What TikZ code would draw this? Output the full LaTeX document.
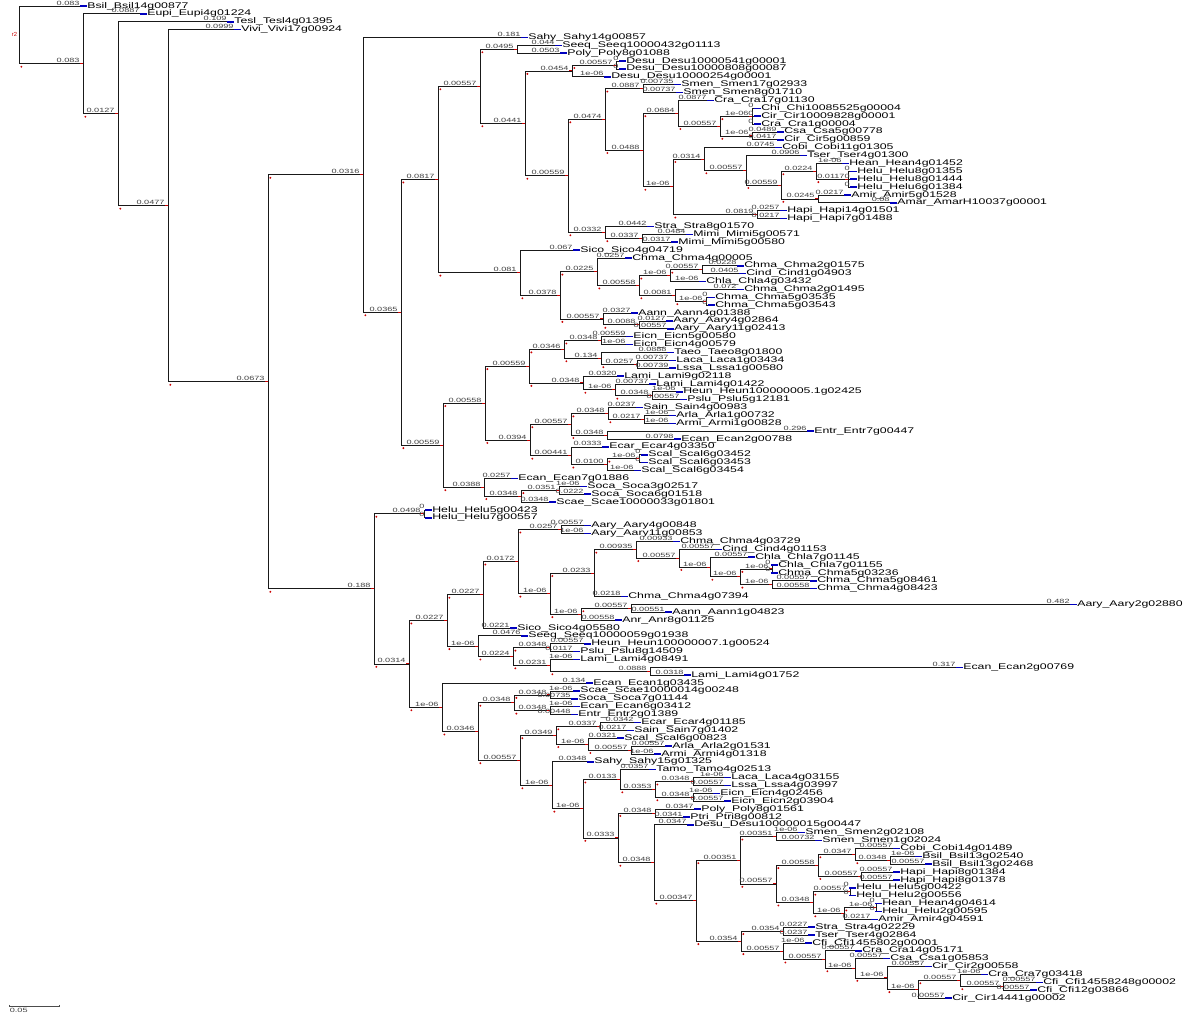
\documentclass[tikz,border=0pt]{standalone}
\usepackage{fontspec}
\setmainfont{Liberation Sans}
\usepackage{graphicx}
\usetikzlibrary{calc}

\newcommand\wide[1]{\scalebox{1.5}[1]{#1}}
\newcommand\lnfont{\fontsize{7}{8}\selectfont}
\newcommand\blfont{\fontsize{5.2}{5.5}\selectfont}

\tikzset{
  br/.style={draw=black!90, line width=0.65pt},
  blen/.style={font=\blfont, text=black!75, inner sep=0.1pt, anchor=south east, xshift=-2.5pt, yshift=0.3pt, pos=1},
  lname/.style={font=\lnfont, anchor=west, inner sep=0pt},
  tipmark/.style={draw=blue!75!black, line width=1.3pt},
  nodetick/.style={draw=red!80!black, line width=0.8pt},
  nodedot/.style={fill=red!80!black},
}

% #1 name, #2 parent, #3 x, #4 row, #5 branch length, #6 label
\newcommand\addleaf[6]{%
  \coordinate (#1) at (#3,#4);
  \draw[br] (#2) |- node[blen]{\wide{#5}} (#1);
  \draw[tipmark] ($(#1)+(-2.5pt,0)$) -- ++(6pt,0);
  \node[lname] (#1-t) at ($(#1)+(3.5pt,0)$) {\wide{#6}};
}
% #1 name, #2 parent, #3 x, #4 row, #5 branch length
\newcommand\addnode[5]{%
  \coordinate (#1) at (#3,#4);
  \draw[br] (#2) |- node[blen]{\wide{#5}} (#1);
  \draw[nodetick] ($(#1)+(-2.5pt,0)$) -- (#1);
  \fill[nodedot] ($(#2 |- #1)+(2pt,-2.5pt)$) circle (0.9pt);
}

\begin{document}
\begin{tikzpicture}[x=0.03cm, y=-0.23619cm]
\fill[white] (0,-0.762) rectangle (1200,128.29);
\useasboundingbox (0,-0.762) rectangle (1200,128.29);

% root
\coordinate (root) at (19,3.67);
\node[font=\fontsize{5}{5}\selectfont, text=red!80!black, anchor=east, inner sep=0.5pt] (rootlab) at (18,3.67) {r2};
\addleaf{bsilA}{root}{83}{0}{0.083}{Bsil\_Bsil14g00877}
\addnode{n1}{root}{83}{7.34}{0.083}
\addleaf{eupi}{n1}{143}{1}{0.0887}{Eupi\_Eupi4g01224}
\addnode{n2}{n1}{118}{13.69}{0.0127}
\addleaf{tesl}{n2}{230}{2}{0.109}{Tesl\_Tesl4g01395}
\addnode{n3}{n2}{168}{25.37}{0.0477}
\addleaf{vivi}{n3}{237}{3}{0.0999}{Vivi\_Vivi17g00924}
\addnode{n4}{n3}{268}{47.74}{0.0673}

% upper clade
\addnode{na}{n4}{363}{21.45}{0.0316}
\addleaf{sahyA}{na}{524}{4}{0.181}{Sahy\_Sahy14g00857}
\addnode{nb}{na}{401}{38.91}{0.0365}
\addnode{nc1}{nb}{438}{22.04}{0.0817}
\addnode{nc2}{nc1}{480}{10.2}{0.00557}
\addnode{nc3}{nc2}{517}{5.5}{0.0495}
\addleaf{seeqA}{nc3}{558}{5}{0.044}{Seeq\_Seeq10000432g01113}
\addleaf{polyA}{nc3}{563}{6}{0.0503}{Poly\_Poly8g01088}
\addnode{nc4}{nc2}{525}{14.9}{0.0441}
\addnode{nc5}{nc4}{572}{8.25}{0.0454}
\addnode{nc6}{nc5}{616}{7.5}{0.00557}
\addleaf{desuA}{nc6}{622}{7}{0}{Desu\_Desu10000541g00001}
\addleaf{desuB}{nc6}{622}{8}{0}{Desu\_Desu10000808g00087}
\addleaf{desuC}{nc5}{607}{9}{1e-06}{Desu\_Desu10000254g00001}
\addnode{nc7}{nc4}{568}{21.57}{0.00559}
\addnode{nc8}{nc7}{605}{14.4}{0.0474}
\addnode{ncs}{nc8}{643}{10.5}{0.0887}
\addleaf{smenA}{ncs}{677}{10}{0.00735}{Smen\_Smen17g02933}
\addleaf{smenB}{ncs}{679}{11}{0.00737}{Smen\_Smen8g01710}
\addnode{nc9}{nc8}{643}{18.3}{0.0488}
\addnode{nc10}{nc9}{678}{13.625}{0.0684}
\addleaf{craA}{nc10}{710}{12}{0.0877}{Cra\_Cra17g01130}
\addnode{nc11}{nc10}{720}{15.25}{0.00557}
\addnode{nc11a}{nc11}{752}{14}{1e-06}
\addleaf{chiA}{nc11a}{757}{13}{0}{Chi\_Chi10085525g00004}
\addleaf{cirA}{nc11a}{757}{14}{0}{Cir\_Cir10009828g00001}
\addleaf{craB}{nc11a}{757}{15}{0}{Cra\_Cra1g00004}
\addnode{nc11b}{nc11}{752}{16.5}{1e-06}
\addleaf{csaA}{nc11b}{780}{16}{0.0489}{Csa\_Csa5g00778}
\addleaf{cirB}{nc11b}{780}{17}{0.0417}{Cir\_Cir5g00859}
\addnode{nc12}{nc9}{673}{22.97}{1e-06}
\addnode{nc13}{nc12}{704}{19.44}{0.0314}
\addleaf{cobiA}{nc13}{778}{18}{0.0745}{Cobi\_Cobi11g01305}
\addnode{nc14}{nc13}{746}{20.875}{0.00557}
\addleaf{tserA}{nc14}{803}{19}{0.0906}{Tser\_Tser4g01300}
\addnode{nc15}{nc14}{781}{22.75}{0.00559}
\addnode{nc16}{nc15}{816}{21}{0.0224}
\addleaf{heanA}{nc16}{845}{20}{1e-06}{Hean\_Hean4g01452}
\addnode{nc16b}{nc16}{848}{22}{0.0117}
\addleaf{heluA}{nc16b}{853}{21}{0}{Helu\_Helu8g01355}
\addleaf{heluB}{nc16b}{853}{22}{0}{Helu\_Helu8g01444}
\addleaf{heluC}{nc16b}{853}{23}{0}{Helu\_Helu6g01384}
\addnode{nc17}{nc15}{818}{24.5}{0.0245}
\addleaf{amirA}{nc17}{847}{24}{0.0217}{Amir\_Amir5g01528}
\addleaf{amarA}{nc17}{893}{25}{0.08}{Amar\_AmarH10037g00001}
\addnode{nc18}{nc12}{757}{26.5}{0.0819}
\addleaf{hapiA}{nc18}{783}{26}{0.0257}{Hapi\_Hapi14g01501}
\addleaf{hapiB}{nc18}{783}{27}{0.0217}{Hapi\_Hapi7g01488}
\addnode{nc19}{nc7}{605}{28.75}{0.0332}
\addleaf{straA}{nc19}{650}{28}{0.0442}{Stra\_Stra8g01570}
\addnode{nc20}{nc19}{642}{29.5}{0.0337}
\addleaf{mimiA}{nc20}{689}{29}{0.0484}{Mimi\_Mimi5g00571}
\addleaf{mimiB}{nc20}{674}{30}{0.0317}{Mimi\_Mimi5g00580}
\addnode{nc21}{nc1}{520}{33.875}{0.081}
\addleaf{sicoA}{nc21}{576}{31}{0.067}{Sico\_Sico4g04719}
\addnode{nc22}{nc21}{560}{36.75}{0.0378}
\addnode{nc23}{nc22}{597}{33.75}{0.0225}
\addleaf{chmaA}{nc23}{628}{32}{0.0257}{Chma\_Chma4g00005}
\addnode{nc24}{nc23}{639}{35.5}{0.00558}
\addnode{nc25}{nc24}{670}{34.25}{1e-06}
\addnode{nc26}{nc25}{702}{33.5}{0.00557}
\addleaf{chmaB}{nc26}{740}{33}{0.0228}{Chma\_Chma2g01575}
\addleaf{cindA}{nc26}{742}{34}{0.0405}{Cind\_Cind1g04903}
\addleaf{chlaA}{nc25}{702}{35}{1e-06}{Chla\_Chla4g03432}
\addnode{nc27}{nc24}{675}{36.75}{0.0081}
\addleaf{chmaC}{nc27}{740}{36}{0.072}{Chma\_Chma2g01495}
\addnode{nc27b}{nc27}{706}{37.5}{1e-06}
\addleaf{chmaD}{nc27b}{711}{37}{0}{Chma\_Chma5g03535}
\addleaf{chmaE}{nc27b}{711}{38}{0}{Chma\_Chma5g03543}
\addnode{nc28}{nc22}{603}{39.75}{0.00557}
\addleaf{aannA}{nc28}{634}{39}{0.0327}{Aann\_Aann4g01388}
\addnode{nc28b}{nc28}{639}{40.5}{0.0088}
\addleaf{aaryA}{nc28b}{669}{40}{0.0127}{Aary\_Aary4g02864}
\addleaf{aaryB}{nc28b}{670}{41}{0.00557}{Aary\_Aary11g02413}

% middle clade
\addnode{nd0}{nb}{443}{55.78}{0.00559}
\addnode{nd1}{nd0}{485}{50.44}{0.00558}
\addnode{nd2}{nd1}{529}{45.75}{0.00559}
\addnode{nd3}{nd2}{564}{43.625}{0.0346}
\addnode{nd4}{nd3}{601}{42.5}{0.0348}
\addleaf{eicnA}{nd4}{629}{42}{0.00559}{Eicn\_Eicn5g00580}
\addleaf{eicnB}{nd4}{629}{43}{1e-06}{Eicn\_Eicn4g00579}
\addnode{nd5}{nd3}{601}{44.75}{0.134}
\addleaf{taeoA}{nd5}{670}{44}{0.0888}{Taeo\_Taeo8g01800}
\addnode{nd6}{nd5}{637}{45.5}{0.0257}
\addleaf{lacaA}{nd6}{672}{45}{0.00737}{Laca\_Laca1g03434}
\addleaf{lssaA}{nd6}{672}{46}{0.00739}{Lssa\_Lssa1g00580}
\addnode{nd7}{nd2}{583}{47.875}{0.0348}
\addleaf{lamiA}{nd7}{620}{47}{0.0320}{Lami\_Lami9g02118}
\addnode{nd8}{nd7}{615}{48.75}{1e-06}
\addleaf{lamiB}{nd8}{652}{48}{0.00737}{Lami\_Lami4g01422}
\addnode{nd9}{nd8}{652}{49.5}{0.0348}
\addleaf{heunA}{nd9}{679}{49}{1e-06}{Heun\_Heun100000005.1g02425}
\addleaf{psluA}{nd9}{683}{50}{0.00557}{Pslu\_Pslu5g12181}
\addnode{nd10}{nd1}{530}{55.125}{0.0394}
\addnode{nd11}{nd10}{571}{53.125}{0.00557}
\addnode{nd12}{nd11}{608}{51.75}{0.0348}
\addleaf{sainA}{nd12}{639}{51}{0.0237}{Sain\_Sain4g00983}
\addnode{nd13}{nd12}{644}{52.5}{0.0217}
\addleaf{arlaA}{nd13}{672}{52}{1e-06}{Arla\_Arla1g00732}
\addleaf{armiA}{nd13}{672}{53}{1e-06}{Armi\_Armi1g00828}
\addnode{nd14}{nd11}{607}{54.5}{0.0348}
\addleaf{entrA}{nd14}{810}{54}{0.296}{Entr\_Entr7g00447}
\addleaf{ecanA}{nd14}{677}{55}{0.0798}{Ecan\_Ecan2g00788}
\addnode{nd15}{nd10}{571}{57.125}{0.00441}
\addleaf{ecarA}{nd15}{605}{56}{0.0333}{Ecar\_Ecar4g03350}
\addnode{nd16}{nd15}{607}{58.25}{0.0100}
\addnode{nd17}{nd16}{639}{57.5}{1e-06}
\addleaf{scalA}{nd17}{644}{57}{0}{Scal\_Scal6g03452}
\addleaf{scalB}{nd17}{644}{58}{0}{Scal\_Scal6g03453}
\addleaf{scalC}{nd16}{637}{59}{1e-06}{Scal\_Scal6g03454}
\addnode{nd18}{nd0}{484}{61.125}{0.0388}
\addleaf{ecanB}{nd18}{514}{60}{0.0257}{Ecan\_Ecan7g01886}
\addnode{nd19}{nd18}{521}{62.25}{0.0348}
\addnode{nd20}{nd19}{559}{61.5}{0.0351}
\addleaf{socaA}{nd20}{583}{61}{1e-06}{Soca\_Soca3g02517}
\addleaf{socaB}{nd20}{587}{62}{0.0222}{Soca\_Soca6g01518}
\addleaf{scaeA}{nd19}{552}{63}{0.0348}{Scae\_Scae10000033g01801}

% lower clade
\addnode{ne0}{n4}{374}{74.03}{0.188}
\addnode{ne1}{ne0}{424}{64.5}{0.0498}
\addleaf{heluD}{ne1}{428}{64}{0}{Helu\_Helu5g00423}
\addleaf{heluE}{ne1}{428}{65}{0}{Helu\_Helu7g00557}
\addnode{ne2}{ne0}{409}{83.56}{0.0314}
\addnode{ne3}{ne2}{447}{78.05}{0.0227}
\addnode{ne4}{ne3}{483}{74.79}{0.0227}
\addnode{ne5}{ne4}{518}{70.57}{0.0172}
\addnode{ne6}{ne5}{561}{66.5}{0.0257}
\addleaf{aaryC}{ne6}{587}{66}{0.00557}{Aary\_Aary4g00848}
\addleaf{aaryD}{ne6}{587}{67}{1e-06}{Aary\_Aary11g00853}
\addnode{ne7}{ne5}{550}{74.64}{1e-06}
\addnode{ne8}{ne7}{594}{72.03}{0.0233}
\addnode{ne9}{ne8}{636}{69.06}{0.00935}
\addleaf{chmaF}{ne9}{676}{68}{0.00933}{Chma\_Chma4g03729}
\addnode{ne10}{ne9}{679}{70.125}{0.00557}
\addleaf{cindB}{ne10}{718}{69}{0.00557}{Cind\_Cind4g01153}
\addnode{ne11}{ne10}{710}{71.25}{1e-06}
\addleaf{chlaB}{ne11}{751}{70}{0.00557}{Chla\_Chla7g01145}
\addnode{ne12}{ne11}{740}{72.5}{1e-06}
\addnode{ne13}{ne12}{772}{71.5}{1e-06}
\addleaf{chlaC}{ne13}{774}{71}{0}{Chla\_Chla7g01155}
\addleaf{chmaG}{ne13}{774}{72}{0}{Chma\_Chma5g03236}
\addnode{ne14}{ne12}{772}{73.5}{1e-06}
\addleaf{chmaH}{ne14}{813}{73}{0.00557}{Chma\_Chma5g08461}
\addleaf{chmaI}{ne14}{813}{74}{0.00558}{Chma\_Chma4g08423}
\addleaf{chmaJ}{ne8}{624}{75}{0.0218}{Chma\_Chma4g07394}
\addnode{ne15}{ne7}{581}{77.25}{1e-06}
\addnode{ne16}{ne15}{631}{76.5}{0.00557}
\addleaf{aaryE}{ne16}{1073}{76}{0.482}{Aary\_Aary2g02880}
\addleaf{aannB}{ne16}{668}{77}{0.00551}{Aann\_Aann1g04823}
\addleaf{anrA}{ne15}{618}{78}{0.00558}{Anr\_Anr8g01125}
\addleaf{sicoB}{ne4}{513}{79}{0.0221}{Sico\_Sico4g05580}
\addnode{ne17}{ne3}{478}{81.31}{1e-06}
\addleaf{seeqB}{ne17}{524}{80}{0.0476}{Seeq\_Seeq10000059g01938}
\addnode{ne18}{ne17}{513}{82.625}{0.0224}
\addnode{ne19}{ne18}{550}{81.5}{0.0348}
\addleaf{heunB}{ne19}{587}{81}{0.00557}{Heun\_Heun100000007.1g00524}
\addleaf{psluB}{ne19}{576}{82}{0.0117}{Pslu\_Pslu8g14509}
\addnode{ne20}{ne18}{550}{83.75}{0.0231}
\addleaf{lamiC}{ne20}{576}{83}{1e-06}{Lami\_Lami4g08491}
\addnode{ne21}{ne20}{650}{84.5}{0.0888}
\addleaf{ecanC}{ne21}{959}{84}{0.317}{Ecan\_Ecan2g00769}
\addleaf{lamiD}{ne21}{687}{85}{0.0318}{Lami\_Lami4g01752}
\addnode{ne22}{ne2}{442}{89.08}{1e-06}
\addleaf{ecanD}{ne22}{589}{86}{0.134}{Ecan\_Ecan1g03435}
\addnode{ne23}{ne22}{478}{92.15}{0.0346}
\addnode{ne24}{ne23}{514}{88.5}{0.0348}
\addnode{ne25}{ne24}{550}{87.5}{0.0348}
\addleaf{scaeB}{ne25}{576}{87}{1e-06}{Scae\_Scae10000014g00248}
\addleaf{socaC}{ne25}{574}{88}{0.00735}{Soca\_Soca7g01144}
\addnode{ne26}{ne24}{550}{89.5}{0.0348}
\addleaf{ecanE}{ne26}{576}{89}{1e-06}{Ecan\_Ecan6g03412}
\addleaf{entrB}{ne26}{574}{90}{0.00448}{Entr\_Entr2g01389}
\addnode{ne27}{ne23}{520}{95.8}{0.00557}
\addnode{ne28}{ne27}{556}{92.625}{0.0349}
\addnode{ne29}{ne28}{600}{91.5}{0.0337}
\addleaf{ecarB}{ne29}{637}{91}{0.0342}{Ecar\_Ecar4g01185}
\addleaf{sainB}{ne29}{630}{92}{0.0217}{Sain\_Sain7g01402}
\addnode{ne30}{ne28}{588}{93.75}{1e-06}
\addleaf{scalD}{ne30}{620}{93}{0.0321}{Scal\_Scal6g00823}
\addnode{ne31}{ne30}{631}{94.5}{0.00557}
\addleaf{arlaB}{ne31}{668}{94}{0.00557}{Arla\_Arla2g01531}
\addleaf{armiB}{ne31}{657}{95}{1e-06}{Armi\_Armi4g01318}
\addnode{ne32}{ne27}{552}{98.98}{1e-06}
\addleaf{sahyB}{ne32}{590}{96}{0.0348}{Sahy\_Sahy15g01325}
\addnode{ne33}{ne32}{583}{101.95}{1e-06}
\addnode{ne34}{ne33}{620}{98.25}{0.0133}
\addleaf{tamoA}{ne34}{652}{97}{0.0357}{Tamo\_Tamo4g02513}
\addnode{ne35}{ne34}{655}{99.5}{0.0353}
\addnode{ne36}{ne35}{693}{98.5}{0.0348}
\addleaf{lacaB}{ne36}{727}{98}{1e-06}{Laca\_Laca4g03155}
\addleaf{lssaB}{ne36}{727}{99}{0.00557}{Lssa\_Lssa4g03997}
\addnode{ne37}{ne35}{693}{100.5}{0.0348}
\addleaf{eicnC}{ne37}{716}{100}{1e-06}{Eicn\_Eicn4g02456}
\addleaf{eicnD}{ne37}{727}{101}{0.00557}{Eicn\_Eicn2g03904}
\addnode{ne38}{ne33}{618}{105.66}{0.0333}
\addnode{ne39}{ne38}{655}{102.5}{0.0348}
\addleaf{polyB}{ne39}{697}{102}{0.0347}{Poly\_Poly8g01561}
\addleaf{ptriA}{ne39}{686}{103}{0.0341}{Ptri\_Ptri8g00812}
\addnode{ne40}{ne38}{654}{108.82}{0.0348}
\addleaf{desuD}{ne40}{690}{104}{0.0347}{Desu\_Desu100000015g00447}
\addnode{ne41}{ne40}{696}{113.64}{0.00347}
\addnode{ne42}{ne41}{740}{108.5}{0.00351}
\addnode{ne43}{ne42}{776}{105.5}{0.00351}
\addleaf{smenC}{ne43}{801}{105}{1e-06}{Smen\_Smen2g02108}
\addleaf{smenD}{ne43}{818}{106}{0.00732}{Smen\_Smen1g02024}
\addnode{ne44}{ne42}{776}{111.5}{0.00557}
\addnode{ne45}{ne44}{818}{109.125}{0.00558}
\addnode{ne46}{ne45}{855}{107.75}{0.0347}
\addleaf{cobiB}{ne46}{896}{107}{0.00557}{Cobi\_Cobi14g01489}
\addnode{ne47}{ne46}{890}{108.5}{0.0348}
\addleaf{bsilB}{ne47}{918}{108}{1e-06}{Bsil\_Bsil13g02540}
\addleaf{bsilC}{ne47}{928}{109}{0.00557}{Bsil\_Bsil13g02468}
\addnode{ne48}{ne45}{861}{110.5}{0.00557}
\addleaf{hapiC}{ne48}{896}{110}{0.00557}{Hapi\_Hapi8g01384}
\addleaf{hapiD}{ne48}{896}{111}{0.00557}{Hapi\_Hapi8g01378}
\addnode{ne49}{ne44}{813}{113.875}{0.0348}
\addnode{ne50}{ne49}{850}{112.5}{0.00557}
\addleaf{heluF}{ne50}{852}{112}{0}{Helu\_Helu5g00422}
\addleaf{heluG}{ne50}{852}{113}{0}{Helu\_Helu2g00556}
\addnode{ne51}{ne49}{844}{115.25}{1e-06}
\addnode{ne52}{ne51}{876}{114.5}{1e-06}
\addleaf{heanB}{ne52}{878}{114}{0}{Hean\_Hean4g04614}
\addleaf{heluH}{ne52}{878}{115}{0}{Helu\_Helu2g00595}
\addleaf{amirB}{ne51}{874}{116}{0.0217}{Amir\_Amir4g04591}
\addnode{ne53}{ne41}{741}{118.78}{0.0354}
\addnode{ne54}{ne53}{783}{117.5}{0.0354}
\addleaf{straB}{ne54}{811}{117}{0.0227}{Stra\_Stra4g02229}
\addleaf{tserB}{ne54}{811}{118}{0.0237}{Tser\_Tser4g02864}
\addnode{ne55}{ne53}{783}{120.05}{0.00557}
\addleaf{cfiA}{ne55}{808}{119}{1e-06}{Cfi\_Cfi1455802g00001}
\addnode{ne56}{ne55}{825}{121.11}{0.00557}
\addleaf{craC}{ne56}{858}{120}{0.00557}{Cra\_Cra14g05171}
\addnode{ne57}{ne56}{855}{122.22}{1e-06}
\addleaf{csaB}{ne57}{886}{121}{0.00557}{Csa\_Csa1g05853}
\addnode{ne58}{ne57}{887}{123.44}{1e-06}
\addleaf{cirC}{ne58}{928}{122}{0.00557}{Cir\_Cir2g00558}
\addnode{ne59}{ne58}{918}{124.875}{1e-06}
\addnode{ne60}{ne59}{960}{123.75}{0.00557}
\addleaf{craD}{ne60}{984}{123}{1e-06}{Cra\_Cra7g03418}
\addnode{ne61}{ne60}{1003}{124.5}{0.00557}
\addleaf{cfiB}{ne61}{1039}{124}{0.00557}{Cfi\_Cfi14558248g00002}
\addleaf{cfiC}{ne61}{1033}{125}{0.00557}{Cfi\_Cfi12g03866}
\addleaf{cirD}{ne59}{948}{126}{0.00557}{Cir\_Cir14441g00002}

% scale bar
\coordinate (sbL) at (9,127.02);
\coordinate (sbR) at (59,127.02);
\draw[draw=black!70, line width=0.5pt] (sbL) -- (sbR);
\draw[draw=black!70, line width=0.8pt] ($(sbL)+(0,1pt)$) -- ($(sbL)+(0,-1pt)$);
\draw[draw=black!70, line width=0.8pt] ($(sbR)+(0,1pt)$) -- ($(sbR)+(0,-1pt)$);
\node[font=\blfont, text=black!75, anchor=north west, inner sep=0.5pt] (sblab) at ($(sbL)+(0,-1.5pt)$) {\wide{0.05}};
\end{tikzpicture}
\end{document}
